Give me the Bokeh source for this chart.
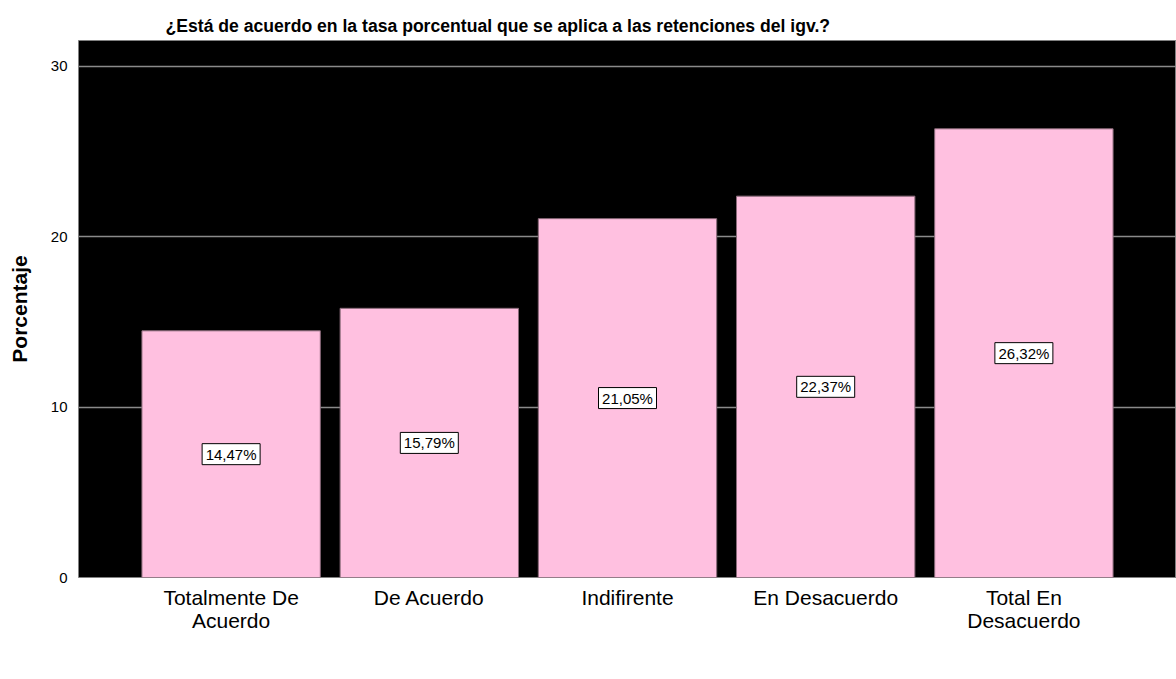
from bokeh.plotting import figure
from bokeh.models import ColumnDataSource, Range1d, FactorRange, Title, Label
from bokeh.core.properties import value
from bokeh.embed import file_html
from bokeh.resources import INLINE

categories = ["Totalmente De\nAcuerdo", "De Acuerdo", "Indifirente", "En Desacuerdo", "Total En\nDesacuerdo"]
values = [14.47, 15.79, 21.05, 22.37, 26.32]
y_ticks = [0, 10, 20, 30]
title_text = "¿Está de acuerdo en la tasa porcentual que se aplica a las retenciones del igv.?"

labels = [f"{v:.2f}".replace(".", ",") + "%" for v in values]
src = ColumnDataSource(dict(cat=categories, val=values, mid=[v / 2 for v in values], lab=labels))

FONT = "Liberation Sans"
PAD = 0.27
Y_MAX = 31.5

p = figure(width=1176, height=679, output_backend="svg", toolbar_location=None,
           x_range=FactorRange(factors=categories, range_padding=PAD, range_padding_units="absolute"),
           y_range=Range1d(0, Y_MAX),
           min_border_left=78, min_border_right=0, min_border_top=40, min_border_bottom=102,
           background_fill_color="black", border_fill_color="white")
p.title = None
t = Title(text=title_text, align="left", offset=87, text_font=FONT, text_font_size="17.6px",
          text_font_style="bold", text_color="black", standoff=9)
p.add_layout(t, "above")

p.vbar(x="cat", top="val", width=0.9, source=src, fill_color="#FFC0E0",
       line_color="#8a6a7a", line_width=1)

p.rect(x="cat", y="mid", width=58, height=21, width_units="screen", height_units="screen",
       source=src, fill_color="white", line_color="black", line_width=1)
p.text(x="cat", y="mid", text="lab", source=src, text_align="center", text_baseline="middle",
       text_font=value(FONT), text_font_size="15px", text_color="black")

p.xgrid.grid_line_color = None
p.ygrid.grid_line_color = "#8a8a8a"
p.ygrid.grid_line_width = 1.5
p.yaxis.ticker = y_ticks
p.outline_line_color = "#808080"

for ax in (p.xaxis[0], p.yaxis[0]):
    ax.axis_line_color = None
    ax.major_tick_line_color = None
    ax.minor_tick_line_color = None
    ax.major_label_text_font = FONT
    ax.major_label_text_color = "black"

p.yaxis.major_label_text_font_size = "15px"
p.yaxis.major_label_standoff = 5
p.yaxis.axis_label = "Porcentaje"
p.yaxis.axis_label_text_font = FONT
p.yaxis.axis_label_text_font_size = "21px"
p.yaxis.axis_label_text_font_style = "bold"
p.yaxis.axis_label_text_color = "black"
p.yaxis.axis_label_standoff = 17

p.xaxis.major_label_text_font_size = "21px"
p.xaxis.major_label_text_line_height = 1.0
p.xaxis.major_label_standoff = 2

# bottom axis title, positioned in data space below the frame (left edge of text ~126px from frame left)
px_per_cat = (1176 - 78) / (len(categories) + 2 * PAD)
px_per_unit = (679 - 102 - 40) / Y_MAX
xl = Label(x=-PAD + 126 / px_per_cat, y=-80 / px_per_unit, text=title_text,
           text_align="left", text_baseline="top", text_font=FONT, text_font_size="17.6px",
           text_font_style="bold", text_color="black")
p.add_layout(xl)

open("out.html", "w").write(file_html(p, INLINE))
